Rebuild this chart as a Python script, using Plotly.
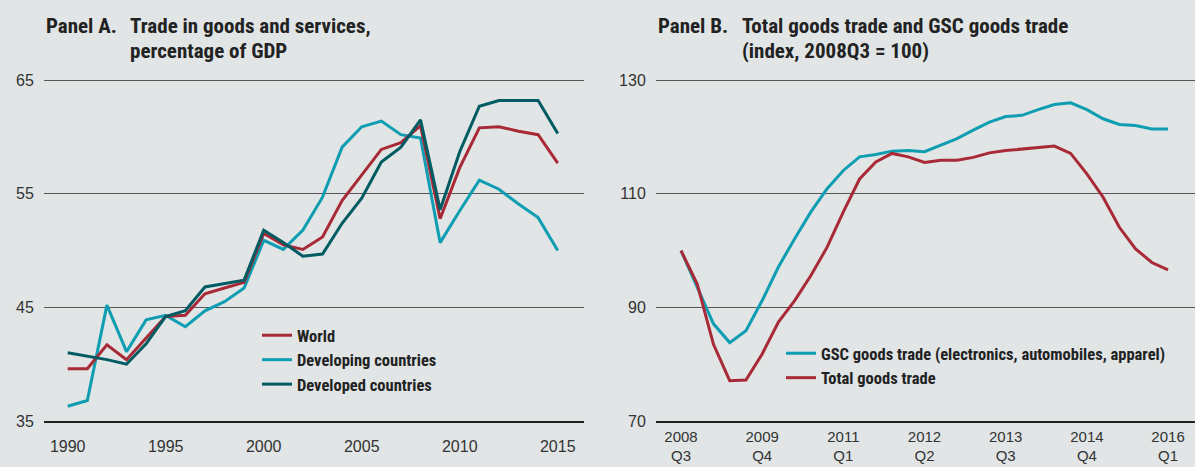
import plotly.graph_objects as go

# ---------------- Data ----------------
YEARS = list(range(1990, 2016))
WORLD = [39.6, 39.6, 41.7, 40.4, 42.3, 44.2, 44.3, 46.2, 46.7, 47.2,
         51.5, 50.5, 50.1, 51.2, 54.4, 56.6, 58.9, 59.5, 61.0, 52.8,
         57.3, 60.8, 60.9, 60.5, 60.2, 57.7]
DEVELOPING = [36.3, 36.8, 45.2, 41.1, 43.9, 44.3, 43.3, 44.7, 45.5, 46.7,
              50.9, 50.1, 51.8, 54.7, 59.1, 60.9, 61.4, 60.2, 59.9, 50.7,
              53.5, 56.2, 55.4, 54.1, 52.9, 50.0]
DEVELOPED = [41.0, 40.7, 40.4, 40.0, 41.8, 44.2, 44.7, 46.8, 47.1, 47.4,
             51.8, 50.7, 49.5, 49.7, 52.4, 54.6, 57.8, 59.1, 61.5, 53.6,
             58.7, 62.7, 63.2, 63.2, 63.2, 60.3]
YEAR_TICKS = [1990, 1995, 2000, 2005, 2010, 2015]
A_YTICKS = [35, 45, 55, 65]

QUARTERS = ["2008Q3", "2008Q4",
            "2009Q1", "2009Q2", "2009Q3", "2009Q4",
            "2010Q1", "2010Q2", "2010Q3", "2010Q4",
            "2011Q1", "2011Q2", "2011Q3", "2011Q4",
            "2012Q1", "2012Q2", "2012Q3", "2012Q4",
            "2013Q1", "2013Q2", "2013Q3", "2013Q4",
            "2014Q1", "2014Q2", "2014Q3", "2014Q4",
            "2015Q1", "2015Q2", "2015Q3", "2015Q4",
            "2016Q1"]
GSC = [100.0, 93.5, 87.1, 83.8, 85.9, 91.2, 97.1, 102.1, 106.8, 110.9,
       114.1, 116.5, 116.9, 117.5, 117.6, 117.4, 118.5, 119.7, 121.2, 122.6,
       123.6, 123.8, 124.8, 125.7, 126.0, 124.8, 123.2, 122.2, 122.0, 121.4,
       121.4]
TOTAL = [100.0, 94.1, 83.5, 77.1, 77.2, 81.8, 87.4, 91.2, 95.6, 100.6,
         106.8, 112.6, 115.6, 117.1, 116.5, 115.5, 115.9, 115.9, 116.4, 117.2,
         117.6, 117.9, 118.2, 118.4, 117.1, 113.5, 109.4, 104.1, 100.3, 97.9,
         96.6]
QUARTER_TICKS = ["2008Q3", "2009Q4", "2011Q1", "2012Q2", "2013Q3", "2014Q4", "2016Q1"]
QUARTER_TICK_TEXT = ["2008<br>Q3", "2009<br>Q4", "2011<br>Q1", "2012<br>Q2",
                     "2013<br>Q3", "2014<br>Q4", "2016<br>Q1"]
B_YTICKS = [70, 90, 110, 130]

# ---------------- Style ----------------
BG = "#e1e5e6"
RED = "#a82a37"
LIGHT_TEAL = "#0f9db2"
DARK_TEAL = "#005b62"
GRID = "#555555"
TEXT = "#222222"
NARROW = "Liberation Sans Narrow, Arial Narrow, Roboto Condensed, sans-serif"
REGULAR = "Liberation Sans, Arial, sans-serif"

W, H = 1195, 467
ML, MR, MT, MB = 44, 0, 79, 46
PW = W - ML - MR
PH = H - MT - MB

def px_x(x):
    return (x - ML) / PW

def px_y(y):
    return (H - MB - y) / PH

fig = go.Figure()

LW = 3
fig.add_trace(go.Scatter(x=YEARS, y=DEVELOPING, mode="lines", name="Developing countries",
                         line=dict(color=LIGHT_TEAL, width=LW), legend="legend", legendrank=2,
                         xaxis="x", yaxis="y"))
fig.add_trace(go.Scatter(x=YEARS, y=WORLD, mode="lines", name="World",
                         line=dict(color=RED, width=LW), legend="legend", legendrank=1,
                         xaxis="x", yaxis="y"))
fig.add_trace(go.Scatter(x=YEARS, y=DEVELOPED, mode="lines", name="Developed countries",
                         line=dict(color=DARK_TEAL, width=LW), legend="legend", legendrank=3,
                         xaxis="x", yaxis="y"))

fig.add_trace(go.Scatter(x=QUARTERS, y=GSC, mode="lines",
                         name="GSC goods trade (electronics, automobiles, apparel)",
                         line=dict(color=LIGHT_TEAL, width=LW), legend="legend2", legendrank=1,
                         xaxis="x2", yaxis="y2"))
fig.add_trace(go.Scatter(x=QUARTERS, y=TOTAL, mode="lines", name="Total goods trade",
                         line=dict(color=RED, width=LW), legend="legend2", legendrank=2,
                         xaxis="x2", yaxis="y2"))

tickfont = dict(family=REGULAR, size=16, color="#333333")
qtickfont = dict(family=REGULAR, size=15, color="#333333")
NOTICK = "rgba(0,0,0,0)"

xa_common = dict(showgrid=False, zeroline=False, showline=True, linecolor="#222222",
                 linewidth=1.5, ticks="outside", tickcolor=NOTICK,
                 fixedrange=True, automargin=False)
ya_common = dict(showgrid=True, gridcolor=GRID, gridwidth=1, zeroline=False, showline=False,
                 ticks="outside", ticklen=6, tickcolor=NOTICK, tickfont=tickfont,
                 fixedrange=True, automargin=False)

A_DOM = [px_x(44), px_x(584)]
B_DOM = [px_x(656), 1.0]

fig.update_layout(
    width=W, height=H,
    margin=dict(l=ML, r=MR, t=MT, b=MB, autoexpand=False),
    paper_bgcolor=BG, plot_bgcolor=BG,
    showlegend=True,
    xaxis=dict(domain=A_DOM, range=[1988.79, 2016.34], tickmode="array",
               tickvals=YEAR_TICKS, anchor="y", ticklen=10, tickfont=tickfont, **xa_common),
    yaxis=dict(domain=[0, 1], range=[35, 65.1], tickmode="array", tickvals=A_YTICKS,
               anchor="x", **ya_common),
    xaxis2=dict(domain=B_DOM, type="category", range=[-1.54, 31.66], tickmode="array",
                tickvals=QUARTER_TICKS, ticktext=QUARTER_TICK_TEXT, anchor="y2", ticklen=1,
                tickfont=qtickfont, **xa_common),
    yaxis2=dict(domain=[0, 1], range=[70, 130.2], tickmode="array", tickvals=B_YTICKS,
                anchor="x2", **ya_common),
    legend=dict(x=px_x(257), y=px_y(318), xanchor="left", yanchor="top",
                bgcolor="rgba(0,0,0,0)", borderwidth=0, tracegroupgap=0,
                font=dict(family=NARROW, size=16.5, color=TEXT, weight="bold"),
                itemclick=False, itemdoubleclick=False),
    legend2=dict(x=px_x(781), y=px_y(336), xanchor="left", yanchor="top",
                 bgcolor="rgba(0,0,0,0)", borderwidth=0, tracegroupgap=0,
                 font=dict(family=NARROW, size=16.5, color=TEXT, weight="bold"),
                 itemclick=False, itemdoubleclick=False),
)

title_font = dict(family=NARROW, size=21, color=TEXT, weight="bold")
titles = [
    ("Panel A.", 44, 26), ("Trade in goods and services,", 128, 26), ("percentage of GDP", 128, 51),
    ("Panel B.", 656, 26), ("Total goods trade and GSC goods trade", 740, 26),
    ("(index, 2008Q3 = 100)", 740, 51),
]
for text, xp, yp in titles:
    fig.add_annotation(text=text, xref="paper", yref="paper", x=px_x(xp), y=px_y(yp),
                       xanchor="left", yanchor="middle", showarrow=False, font=title_font)

fig.write_html("out.html", config={"displayModeBar": False},
               post_script="document.body.style.margin='0';")
